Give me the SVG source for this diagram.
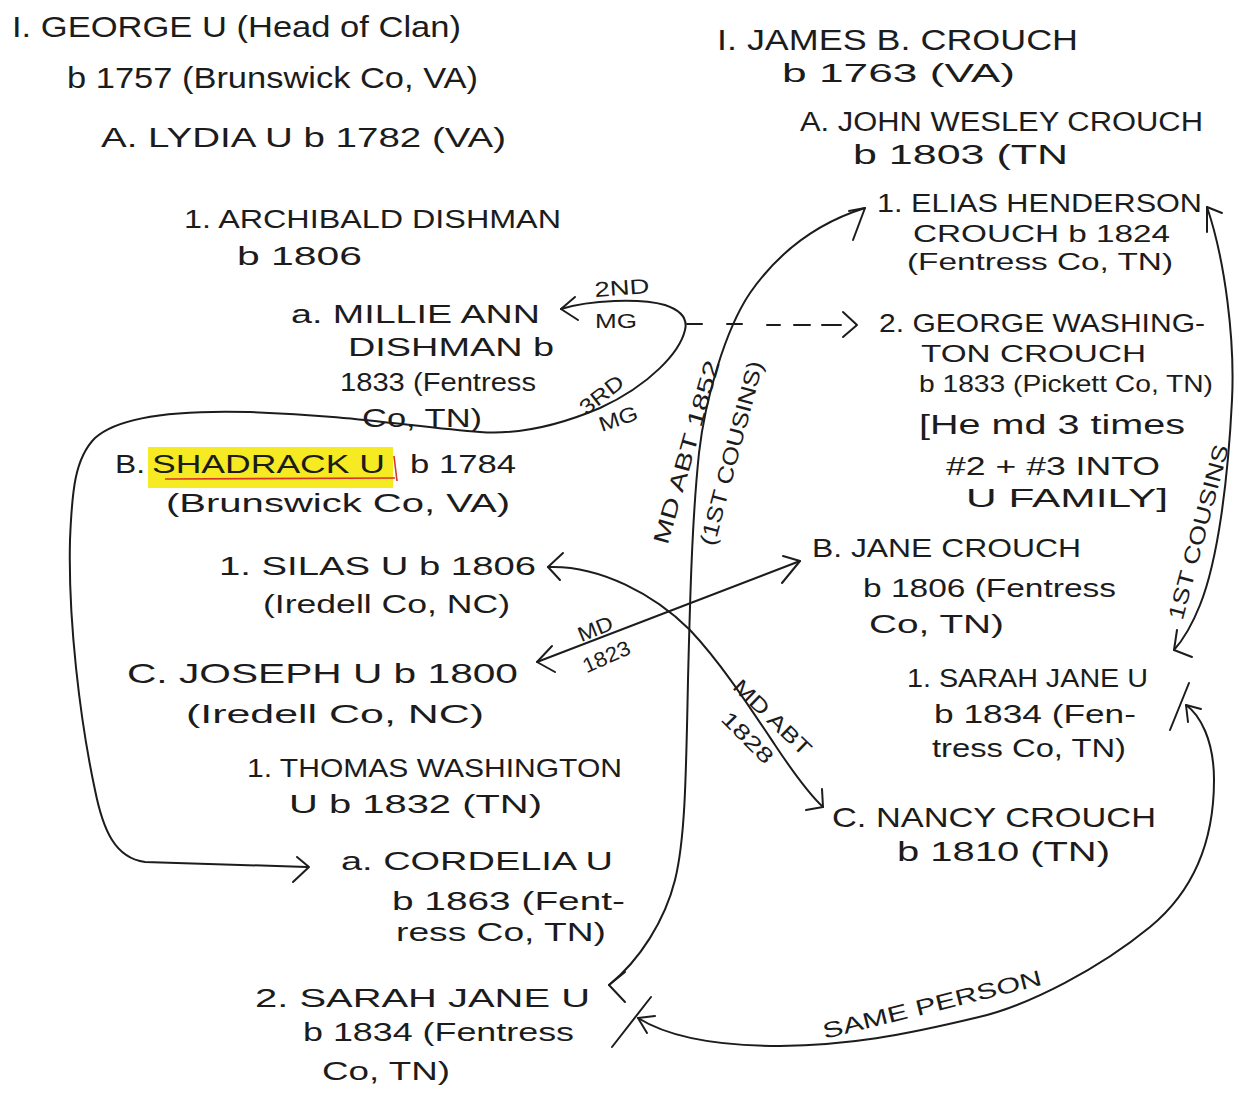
<svg xmlns="http://www.w3.org/2000/svg" width="1239" height="1097" viewBox="0 0 1239 1097">
<style>
.t{font-family:"Liberation Sans",Arial,sans-serif;fill:#1c1c1c;font-size:26px}
.l{font-family:"Liberation Sans",Arial,sans-serif;fill:#1c1c1c;font-size:21px;text-anchor:middle}
.conn{fill:none;stroke:#1c1c1c;stroke-width:2;stroke-linecap:round;stroke-linejoin:round}
</style>
<rect width="1239" height="1097" fill="#ffffff"/>

<g id="george">
<text class="t" x="12" y="37" style="font-size:30px" textLength="449" lengthAdjust="spacingAndGlyphs">I. GEORGE U (Head of Clan)</text>
<text class="t" x="67" y="88" style="font-size:30px" textLength="411" lengthAdjust="spacingAndGlyphs">b 1757 (Brunswick Co, VA)</text>
</g>
<g id="lydia">
<text class="t" x="101" y="147" style="font-size:27px" textLength="405" lengthAdjust="spacingAndGlyphs">A. LYDIA U b 1782 (VA)</text>
</g>
<g id="archibald">
<text class="t" x="184" y="228" textLength="377" lengthAdjust="spacingAndGlyphs">1. ARCHIBALD DISHMAN</text>
<text class="t" x="237" y="265" textLength="125" lengthAdjust="spacingAndGlyphs">b 1806</text>
</g>
<g id="millie">
<text class="t" x="291" y="323" textLength="249" lengthAdjust="spacingAndGlyphs">a. MILLIE ANN</text>
<text class="t" x="348" y="356" textLength="206" lengthAdjust="spacingAndGlyphs">DISHMAN b</text>
<text class="t" x="340" y="391" textLength="196" lengthAdjust="spacingAndGlyphs">1833 (Fentress</text>
<text class="t" x="362" y="427" textLength="120" lengthAdjust="spacingAndGlyphs">Co, TN)</text>
</g>
<g id="shadrack">
<rect x="148" y="447" width="245" height="41" fill="#f6ea22"/>
<path d="M165,479 L395,478 M394,456 L397,481" fill="none" stroke="#d9342b" stroke-width="1.6"/>
<text class="t" x="115" y="473" textLength="30" lengthAdjust="spacingAndGlyphs">B.</text>
<text class="t" x="152" y="473" textLength="233" lengthAdjust="spacingAndGlyphs">SHADRACK U</text>
<text class="t" x="410" y="473" textLength="106" lengthAdjust="spacingAndGlyphs">b 1784</text>
<text class="t" x="166" y="512" textLength="344" lengthAdjust="spacingAndGlyphs">(Brunswick Co, VA)</text>
</g>
<g id="silas">
<text class="t" x="219" y="575" textLength="317" lengthAdjust="spacingAndGlyphs">1. SILAS U b 1806</text>
<text class="t" x="263" y="613" textLength="247" lengthAdjust="spacingAndGlyphs">(Iredell Co, NC)</text>
</g>
<g id="joseph">
<text class="t" x="127" y="683" style="font-size:28px" textLength="391" lengthAdjust="spacingAndGlyphs">C. JOSEPH U b 1800</text>
<text class="t" x="186" y="723" textLength="298" lengthAdjust="spacingAndGlyphs">(Iredell Co, NC)</text>
</g>
<g id="thomas">
<text class="t" x="247" y="777" textLength="375" lengthAdjust="spacingAndGlyphs">1. THOMAS WASHINGTON</text>
<text class="t" x="289" y="813" textLength="253" lengthAdjust="spacingAndGlyphs">U b 1832 (TN)</text>
</g>
<g id="cordelia">
<text class="t" x="341" y="870" textLength="272" lengthAdjust="spacingAndGlyphs">a. CORDELIA U</text>
<text class="t" x="392" y="910" textLength="233" lengthAdjust="spacingAndGlyphs">b 1863 (Fent-</text>
<text class="t" x="396" y="941" textLength="210" lengthAdjust="spacingAndGlyphs">ress Co, TN)</text>
</g>
<g id="sarah2">
<text class="t" x="255" y="1007" textLength="335" lengthAdjust="spacingAndGlyphs">2. SARAH JANE U</text>
<text class="t" x="303" y="1041" textLength="271" lengthAdjust="spacingAndGlyphs">b 1834 (Fentress</text>
<text class="t" x="322" y="1080" textLength="128" lengthAdjust="spacingAndGlyphs">Co, TN)</text>
</g>

<g id="james">
<text class="t" x="717" y="50" style="font-size:30px" textLength="361" lengthAdjust="spacingAndGlyphs">I. JAMES B. CROUCH</text>
<text class="t" x="782" y="82" style="font-size:26px" textLength="233" lengthAdjust="spacingAndGlyphs">b 1763 (VA)</text>
</g>
<g id="john">
<text class="t" x="800" y="131" style="font-size:27px" textLength="403" lengthAdjust="spacingAndGlyphs">A. JOHN WESLEY CROUCH</text>
<text class="t" x="853" y="164" style="font-size:27px" textLength="215" lengthAdjust="spacingAndGlyphs">b 1803 (TN</text>
</g>
<g id="elias">
<text class="t" x="877" y="212" style="font-size:26px" textLength="325" lengthAdjust="spacingAndGlyphs">1. ELIAS HENDERSON</text>
<text class="t" x="913" y="242" style="font-size:24px" textLength="257" lengthAdjust="spacingAndGlyphs">CROUCH b 1824</text>
<text class="t" x="907" y="270" style="font-size:24px" textLength="266" lengthAdjust="spacingAndGlyphs">(Fentress Co, TN)</text>
</g>
<g id="georgew">
<text class="t" x="879" y="332" style="font-size:25px" textLength="326" lengthAdjust="spacingAndGlyphs">2. GEORGE WASHING-</text>
<text class="t" x="921" y="362" style="font-size:24px" textLength="225" lengthAdjust="spacingAndGlyphs">TON CROUCH</text>
<text class="t" x="919" y="392" style="font-size:24px" textLength="294" lengthAdjust="spacingAndGlyphs">b 1833 (Pickett Co, TN)</text>
<text class="t" x="919" y="434" style="font-size:27px" textLength="266" lengthAdjust="spacingAndGlyphs">[He md 3 times</text>
<text class="t" x="946" y="475" style="font-size:25px" textLength="214" lengthAdjust="spacingAndGlyphs">#2 + #3 INTO</text>
<text class="t" x="966" y="507" style="font-size:25px" textLength="202" lengthAdjust="spacingAndGlyphs">U FAMILY]</text>
</g>
<g id="jane">
<text class="t" x="812" y="557" textLength="269" lengthAdjust="spacingAndGlyphs">B. JANE CROUCH</text>
<text class="t" x="863" y="597" textLength="253" lengthAdjust="spacingAndGlyphs">b 1806 (Fentress</text>
<text class="t" x="869" y="633" textLength="135" lengthAdjust="spacingAndGlyphs">Co, TN)</text>
</g>
<g id="sarah1">
<text class="t" x="907" y="687" textLength="241" lengthAdjust="spacingAndGlyphs">1. SARAH JANE U</text>
<text class="t" x="934" y="723" textLength="202" lengthAdjust="spacingAndGlyphs">b 1834 (Fen-</text>
<text class="t" x="932" y="757" textLength="194" lengthAdjust="spacingAndGlyphs">tress Co, TN)</text>
</g>
<g id="nancy">
<text class="t" x="832" y="827" style="font-size:28px" textLength="324" lengthAdjust="spacingAndGlyphs">C. NANCY CROUCH</text>
<text class="t" x="897" y="861" style="font-size:28px" textLength="213" lengthAdjust="spacingAndGlyphs">b 1810 (TN)</text>
</g>

<g id="connectors">
<path class="conn" d="M561,309 C590,300 640,298 665,305 C680,310 688,318 685,330 C680,352 650,385 600,408 C560,425 520,435 480,432 C420,428 350,415 250,412 C180,410 120,415 95,438 C75,458 72,490 70,540 C68,620 80,720 95,790 C103,830 115,858 145,862 L307,867"/>
<path class="conn" d="M575,297 L561,309 L578,320"/>
<path class="conn" d="M297,857 L309,867 L293,882"/>
<text class="l" x="622" y="295" textLength="55" lengthAdjust="spacingAndGlyphs" transform="rotate(-4 622 288)">2ND</text>
<text class="l" x="616" y="328" textLength="42" lengthAdjust="spacingAndGlyphs">MG</text>
<text class="l" transform="translate(601,394) rotate(-38)" y="8" textLength="50" lengthAdjust="spacingAndGlyphs">3RD</text>
<text class="l" transform="translate(618,418) rotate(-19)" y="8" textLength="40" lengthAdjust="spacingAndGlyphs">MG</text>

<path class="conn" d="M687,324 H702 M727,324 H742 M767,325 H780 M794,325 H810 M822,325 H841"/>
<path class="conn" d="M843,312 L857,325 L843,337"/>

<path class="conn" d="M865,208 C820,222 780,250 750,293 C725,330 705,400 699,453 C692,520 690,600 688,680 C686,780 685,840 675,880 C665,920 640,960 609,985"/>
<path class="conn" d="M849,211 L865,208 L853,240"/>
<path class="conn" d="M625,972 L609,985 L625,1002"/>
<text class="l" transform="translate(686,452) rotate(-74)" y="8" style="font-size:22px" textLength="190" lengthAdjust="spacingAndGlyphs">MD ABT 1852</text>
<text class="l" transform="translate(731,453) rotate(-75)" y="8" style="font-size:22px" textLength="190" lengthAdjust="spacingAndGlyphs">(1ST COUSINS)</text>

<path class="conn" d="M537,662 L800,561"/>
<path class="conn" d="M552,646 L537,662 L555,672"/>
<path class="conn" d="M783,556 L800,561 L782,583"/>
<text class="l" transform="translate(595,628) rotate(-22)" y="8" textLength="36" lengthAdjust="spacingAndGlyphs">MD</text>
<text class="l" transform="translate(606,656) rotate(-24)" y="8" textLength="50" lengthAdjust="spacingAndGlyphs">1823</text>

<path class="conn" d="M548,567 C600,565 655,595 690,630 C720,662 745,700 775,745 C795,775 810,795 823,807"/>
<path class="conn" d="M563,553 L548,567 L560,580"/>
<path class="conn" d="M822,789 L823,807 L806,810"/>
<text class="l" transform="translate(773,717) rotate(44)" y="8" textLength="100" lengthAdjust="spacingAndGlyphs">MD ABT</text>
<text class="l" transform="translate(748,737) rotate(45)" y="8" textLength="64" lengthAdjust="spacingAndGlyphs">1828</text>

<path class="conn" d="M1207,207 C1225,260 1235,340 1232,400 C1228,480 1218,560 1200,605 C1192,625 1183,640 1174,650"/>
<path class="conn" d="M1207,232 L1207,207 L1222,213"/>
<path class="conn" d="M1177,630 L1174,650 L1192,657"/>
<text class="l" transform="translate(1198,532) rotate(-75)" y="8" style="font-size:22px" textLength="180" lengthAdjust="spacingAndGlyphs">1ST COUSINS</text>

<path class="conn" d="M1186,705 C1200,715 1214,740 1214,780 C1214,840 1195,890 1150,927 C1100,968 1030,1005 979,1017 C900,1036 850,1045 780,1046 C720,1046 670,1038 638,1018"/>
<path class="conn" d="M1170,730 L1189,683 M1201,709 L1186,705 L1188,722"/>
<path class="conn" d="M612,1047 L651,997 M655,1016 L638,1018 L647,1033"/>
<text class="l" transform="translate(932,1004) rotate(-14)" y="8" style="font-size:22px" textLength="225" lengthAdjust="spacingAndGlyphs">SAME PERSON</text>
</g>
</svg>
